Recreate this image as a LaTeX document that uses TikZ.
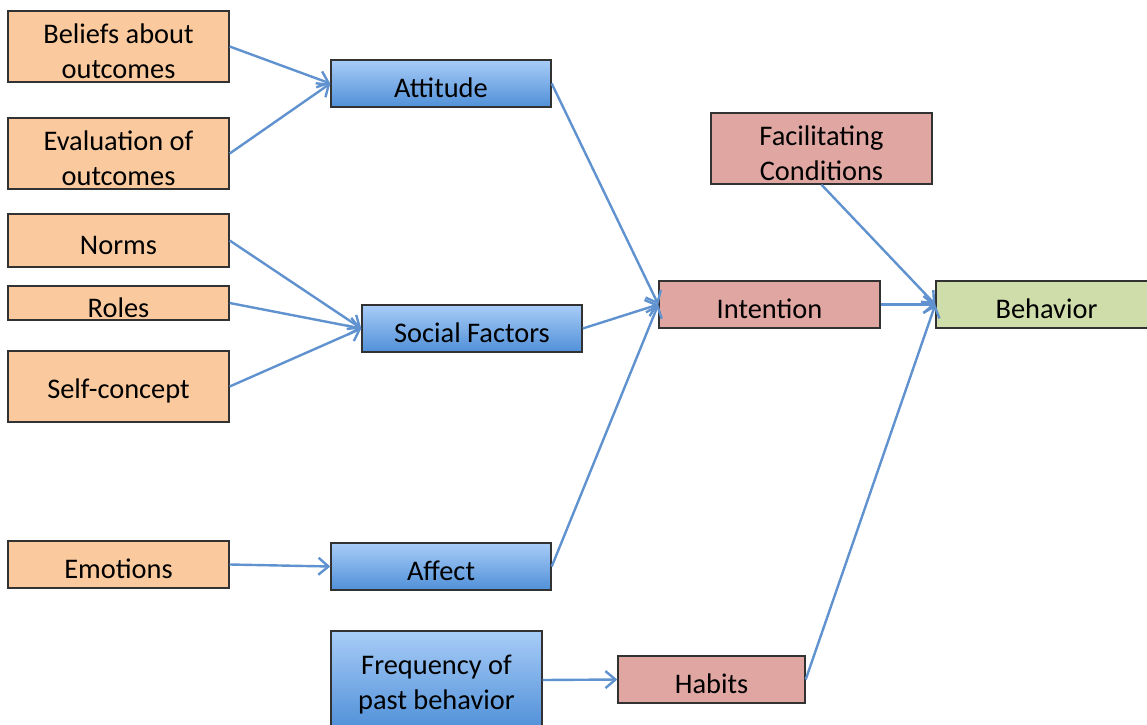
\documentclass[tikz,border=0pt]{standalone}
\usepackage{fontspec}
\setmainfont{Carlito}
\usetikzlibrary{arrows.meta,shadows}
\definecolor{orangebox}{RGB}{250,202,158}
\definecolor{pinkbox}{RGB}{223,166,162}
\definecolor{greenbox}{RGB}{207,221,170}
\definecolor{bluetop}{RGB}{168,204,247}
\definecolor{bluebot}{RGB}{80,144,216}
\definecolor{arrowblue}{RGB}{95,146,206}
\definecolor{boxline}{RGB}{50,50,50}
\tikzset{
  box/.style={draw=boxline, line width=0.7pt, inner sep=0pt,
    drop shadow={shadow xshift=0.6pt, shadow yshift=-0.6pt, opacity=0.35}},
  txt/.style={label={[align=center, font=\fontsize{14.2}{17.3}\selectfont, yshift=-2.3pt]center:#1}},
  obox/.style={box, fill=orangebox},
  pbox/.style={box, fill=pinkbox},
  gbox/.style={box, fill=greenbox},
  bbox/.style={box, top color=bluetop, bottom color=bluebot},
  link/.style={draw=arrowblue, line width=1.2pt,
    -{Straight Barb[length=5pt,width=8.5pt,line width=1.2pt]}}
}
\begin{document}
\begin{tikzpicture}[x=0.5pt,y=-0.5pt]
\useasboundingbox (0,0) rectangle (1147,724);
\node[obox, minimum width=110.5pt, minimum height=35.5pt, txt={Beliefs about\\outcomes}] (bel) at (118.5,46.5) {};
\node[obox, minimum width=110.5pt, minimum height=35.5pt, txt={Evaluation of\\outcomes}] (eva) at (118.5,153.5) {};
\node[obox, minimum width=110.5pt, minimum height=26.5pt, txt={Norms}] (nor) at (118.5,240.5) {};
\node[obox, minimum width=110.5pt, minimum height=17pt, txt={Roles}] (rol) at (118.5,303) {};
\node[obox, minimum width=110.5pt, minimum height=35.5pt, txt={Self-concept}] (sel) at (118.5,386.5) {};
\node[obox, minimum width=110.5pt, minimum height=23.5pt, txt={Emotions}] (emo) at (118.5,564.5) {};
\node[bbox, minimum width=110pt, minimum height=23.5pt, txt={Attitude}] (att) at (441,83.5) {};
\node[bbox, minimum width=110pt, minimum height=23.5pt, txt={Social Factors}] (soc) at (472,328.5) {};
\node[bbox, minimum width=110pt, minimum height=23.5pt, txt={Affect}] (aff) at (441,566.5) {};
\node[bbox, minimum width=105.5pt, minimum height=49pt, txt={Frequency of\\past behavior}] (fre) at (436.5,680) {};
\node[pbox, minimum width=93.5pt, minimum height=23.5pt, txt={Habits}] (hab) at (711.5,679.5) {};
\node[pbox, minimum width=110.5pt, minimum height=23.5pt, txt={Intention}] (int) at (769.5,304.5) {};
\node[pbox, minimum width=110.5pt, minimum height=35.5pt, txt={Facilitating\\Conditions}] (fac) at (821.5,148.5) {};
\node[gbox, minimum width=110.5pt, minimum height=23.5pt, txt={Behavior}] (beh) at (1046.5,304.5) {};
\draw[link] (bel.east) -- (att.west);
\draw[link] (eva.east) -- (att.west);
\draw[link] (nor.east) -- (soc.west);
\draw[link] (rol.east) -- (soc.west);
\draw[link] (sel.east) -- (soc.west);
\draw[link] (emo.east) -- (aff.west);
\draw[link] (att.east) -- (int.west);
\draw[link] (soc.east) -- (int.west);
\draw[link] (aff.east) -- (int.west);
\draw[link] (fre.east) -- (hab.west);
\draw[link] (int.east) -- (beh.west);
\draw[link] (fac.south) -- (beh.west);
\draw[link] (hab.east) -- (beh.west);
\end{tikzpicture}
\end{document}
